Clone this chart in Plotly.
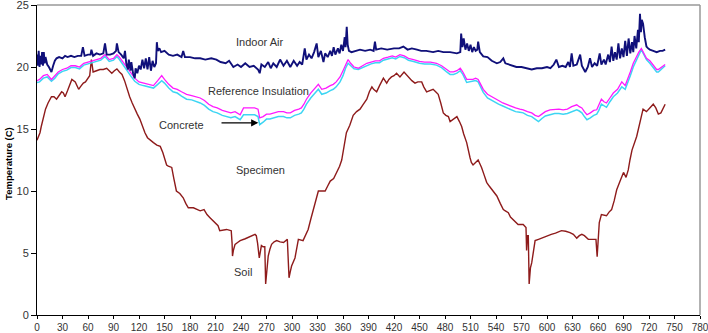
import plotly.graph_objects as go

# ---------------- data ----------------
air_x = [0,1,2,3,4,5,6,7,8,9,10,12,14,16,17,19,21,23,26,30,33,36,40,44,48,52,54,56,60,63,64,66,70,74,78,80,82,86,90,93,94,96,99,102,103.5,105,107,108,110,111,113,115,116,118,120,122,124,126,128,130,132,134,136,138,140,141,142,144,146,150,155,160,165,170,172,174,180,186,192,198,205,211,216,222,226,231,236,240,245,250,255,260,262,264,268,272,275,278,282,286,290,294,298,302,306,309,312,315,317,320,323,326,329,331,334,337,339,342,345,347,349,351,354,356,358,360,362,363,364.4,365.5,367,370,375,380,386,392,396,397.6,399,405,412,420,426,431,436,441,447,452,458,466,472,478,486,494,498,499,500.5,502,504,506,508,510,512,514,516,518,519,521,525,530,535,541,545,548.6,551,556,560,564,570,576,582,588,594,600,604,608,611,614,618,622,625,627,629,631,635,639,641,645,648,650.6,653,656,659,662,664,667,669,672,674,676,678,680,682,684,686,688,690,692,694,696,698,700,701.5,703,705,707,708,709.4,710.5,711.5,713,715,717,719,721,725,729,733,736,739]
air_y = [21.0,20.1,21.3,20.0,20.9,20.2,21.2,20.1,21.2,20.3,20.8,20.2,20.0,19.7,19.6,20.1,20.5,20.7,20.8,20.7,20.9,20.8,20.9,20.8,20.9,20.9,21.6,20.9,21.0,21.0,21.4,20.9,21.1,21.0,21.1,21.9,21.0,21.0,21.1,21.3,21.9,21.2,21.0,20.7,21.3,20.3,19.8,20.6,19.7,20.4,19.5,19.1,19.9,19.5,20.1,19.8,20.6,19.9,20.7,19.8,20.8,19.7,20.5,20.0,20.3,22.0,21.3,21.5,21.2,21.3,21.0,20.9,21.0,20.8,21.3,20.8,20.8,20.7,20.7,20.6,20.7,20.6,20.4,20.3,20.5,20.0,20.2,20.0,20.3,20.0,20.1,19.8,19.5,20.2,20.0,20.4,19.9,20.3,20.0,20.6,20.1,20.5,20.0,20.5,20.1,20.4,20.2,21.5,20.6,21.0,20.7,21.2,21.9,20.8,21.3,20.4,21.1,20.8,21.3,20.9,21.6,21.0,21.5,21.1,21.8,21.3,22.4,21.6,23.25,21.8,21.3,21.2,21.3,21.4,21.3,21.4,21.3,22.05,21.4,21.5,21.4,21.5,21.5,21.65,21.4,21.5,21.4,21.3,21.3,21.2,21.3,21.2,21.2,21.1,21.2,22.7,21.6,22.3,21.4,21.9,21.3,21.8,21.2,21.6,21.3,21.4,22.05,21.2,20.85,20.8,20.5,20.3,20.4,20.7,20.3,20.2,20.1,20.0,20.0,19.9,19.8,19.9,19.9,20.0,19.9,20.2,20.6,20.0,20.1,20.0,20.4,20.0,21.1,20.1,20.2,21.0,20.1,19.6,20.0,20.7,20.0,20.3,20.1,21.1,20.2,20.6,20.2,21.0,20.4,21.65,20.5,21.2,20.6,21.9,20.7,21.5,20.8,22.1,20.9,22.3,21.1,22.0,21.2,22.5,21.5,23.0,22.0,24.3,22.8,23.8,23.5,22.4,21.65,21.5,21.4,21.3,21.2,21.3,21.3,21.4]

ins_x = [0,3,7.5,12,17,21,25,30,35,40,45,50,55,60,65,70,75,80,85,90,94,97,100,105,110,115,120,125,130,137,142,146.7,150,155,160,165,170,176,182,187,192,197,202,207,212,218,223,228,233,239,243,250,256,260,262,266,270,274,278,284,290,294,298,303,308,311,314,317,322,327,331,335,340,345,348.6,352,356.5,360,363,366,369,373,378,383,388,393,398,403,407.5,413,418,422,427,432,437,443,450,456,463,470,476,482,486,490,494,498,501,505.5,509,513,516,519,522,525,530,537,543,548,553,558,563,568,572,577,582,586,590,594,598,603.5,609,614,619,624,629,635,638,641,644,647,651,655,658.5,661,664,667,670,674,678,683,686,688,692,695,698,701.5,705,708,711,714,717,721,725,729,731,735,739]
ref_ins_y = [18.9,19.0,19.3,19.4,19.0,19.3,19.6,19.8,19.9,20.1,20.1,20.0,20.3,20.4,20.5,20.6,20.7,21.0,20.6,20.7,21.0,20.8,20.5,20.0,19.6,19.1,18.8,18.7,18.6,18.5,18.9,19.3,19.0,18.6,18.3,18.2,18.0,17.8,17.7,17.6,17.5,17.3,17.0,16.8,16.7,16.5,16.4,16.3,16.4,16.15,16.7,16.7,16.7,16.6,15.9,16.0,16.2,16.2,16.3,16.4,16.4,16.3,16.3,16.5,16.6,16.7,17.0,17.4,17.9,18.3,18.6,18.2,18.3,18.5,18.6,18.8,19.2,19.7,20.2,20.6,20.3,20.0,19.9,20.1,20.3,20.4,20.5,20.5,20.7,20.8,20.9,20.8,21.0,20.9,20.7,20.6,20.45,20.4,20.4,20.3,20.1,19.8,19.6,19.6,19.7,19.9,19.6,19.0,19.0,19.0,19.1,19.0,18.6,18.2,17.8,17.5,17.3,17.1,16.95,16.8,16.7,16.6,16.55,16.4,16.3,16.1,16.0,16.2,16.4,16.55,16.6,16.6,16.55,16.6,16.8,16.95,16.8,16.7,16.4,16.15,16.3,16.5,16.55,16.9,17.4,17.2,17.1,17.5,17.9,18.2,18.5,18.8,18.5,19.0,19.6,20.3,20.8,21.2,21.5,21.1,20.7,20.5,20.1,19.8,19.8,20.0,20.2]
concrete_y = [18.75,18.8,19.1,19.2,18.85,19.1,19.45,19.65,19.75,19.95,19.95,19.85,20.15,20.25,20.35,20.45,20.55,20.85,20.45,20.55,20.85,20.6,20.3,19.7,19.3,18.85,18.6,18.5,18.4,18.3,18.6,18.9,18.7,18.3,18.0,17.9,17.65,17.4,17.35,17.25,17.1,16.9,16.6,16.4,16.3,16.1,16.0,15.9,16.0,15.75,16.15,16.15,16.15,16.0,15.35,15.55,15.8,15.8,15.9,16.0,16.0,15.9,15.9,16.1,16.2,16.3,16.6,17.0,17.5,17.9,18.2,17.8,17.9,18.1,18.2,18.4,18.8,19.3,19.9,20.3,20.1,19.85,19.8,19.95,20.15,20.25,20.35,20.35,20.55,20.65,20.75,20.65,20.85,20.75,20.55,20.45,20.3,20.25,20.25,20.15,19.95,19.6,19.4,19.4,19.5,19.7,19.4,18.75,18.8,18.8,18.9,18.8,18.35,17.95,17.5,17.2,17.0,16.85,16.7,16.5,16.4,16.35,16.3,16.1,16.0,15.8,15.6,15.85,16.05,16.15,16.25,16.25,16.2,16.25,16.4,16.55,16.45,16.3,16.0,15.75,15.9,16.1,16.2,16.5,17.0,16.85,16.75,17.2,17.6,17.9,18.2,18.4,18.2,18.7,19.3,20.0,20.55,21.0,21.4,21.0,20.6,20.3,19.9,19.6,19.6,19.85,20.1]

soil_x = [0,1.5,3.5,5,7.5,10,13,17,20,23,26,29,31,33,36,39,41,45,47,49,51,54.5,57,60,62,64,65,66,70,74,78,82,85,88,91,94,97,100,103,106,109,112,115,118,121,124,127,130,133,137,141,145,148,150.6,152.5,154.5,158.5,161,164,168,172,175,178,184,188,192,196.5,200,203.5,207,211,213,215,219,223,226,228.5,229.5,230,231,233,236,239,245,250,256.5,258,259.5,261.5,263,264,266,268,269,270.5,272,274,276,279,282,286,290,294.5,296.5,298,299.5,303.5,305.5,307.5,313,316,319,322,325,328,331,335,339,342,345,349,352.5,356,358.5,361,364,368,372,376,380,384,388,391,394,396,399.6,403,407.5,411.4,414,417,420,423,427,431.8,437,441,444.7,448,452.6,455,458.4,462,466,469,472,475,478,481,484,486,490,494,497,499.6,502,505.5,509.4,511,513,516,519,521,523,526,529,532,535,538,541,545,548.6,551,554.5,557,560,563,566,569,572,575.3,576,577,578,579,580.5,582,584,586,590,595.6,600,605,610,617,622,627,631,635,638,641,644,648.6,652,657.6,659,660.5,661.5,664,667,670,673,676,679,682,686,690,693,695.6,697.6,700,705.5,709,713,717,721,725,728,731,734,737,739]
soil_y = [14.1,14.4,14.7,15.2,16.0,16.6,17.1,17.6,17.6,17.4,17.7,18.0,17.9,17.6,18.1,18.6,19.0,18.8,18.5,18.2,18.4,18.7,18.8,19.1,19.3,20.6,20.0,19.6,19.7,19.8,19.8,19.9,19.7,19.5,19.7,19.85,19.6,19.4,18.9,18.2,17.6,17.1,16.6,16.2,15.8,15.2,14.7,14.3,14.1,13.9,13.7,13.6,13.1,12.5,12.1,12.0,11.9,11.0,10.0,9.8,9.45,9.0,8.65,8.65,8.5,8.4,8.5,8.1,7.85,7.6,7.3,7.2,6.8,6.85,6.9,6.85,6.8,5.8,4.75,5.2,5.7,5.85,6.0,6.15,6.3,6.5,6.4,5.8,4.6,5.4,5.6,5.5,5.5,2.5,3.8,4.75,5.3,5.7,5.9,6.0,5.9,5.85,6.1,3.0,3.5,3.95,4.6,5.4,6.1,6.0,6.4,6.9,7.7,8.5,9.3,10.0,10.0,10.0,10.4,10.8,11.0,11.5,12.0,12.5,13.6,14.7,15.3,16.1,16.4,16.6,17.0,17.4,18.0,18.4,18.2,18.0,18.5,19.1,18.7,19.0,19.2,19.3,19.5,19.2,19.6,19.2,18.9,18.7,18.8,18.8,18.4,18.0,18.1,18.2,18.0,17.8,17.1,16.3,16.1,16.0,15.6,15.8,16.0,15.6,15.2,14.6,13.9,12.7,12.3,12.1,12.3,12.5,12.2,11.9,11.3,10.7,10.4,10.1,9.8,9.6,9.0,8.5,8.4,8.25,7.9,7.7,7.5,7.3,7.3,7.3,7.05,5.2,6.4,6.4,2.5,3.8,4.2,5.2,6.0,6.1,6.25,6.4,6.5,6.6,6.8,6.75,6.65,6.5,6.2,6.4,6.5,6.4,6.1,6.1,6.1,4.7,6.0,7.45,8.1,8.05,8.0,8.3,8.5,9.2,10.1,10.8,11.5,11.1,11.7,12.5,13.3,14.4,15.5,16.6,16.4,16.7,17.0,16.7,16.2,16.3,16.7,17.0]

x_ticks = list(range(0, 781, 30))
y_ticks = [0, 5, 10, 15, 20, 25]

labels = {
    "Indoor Air": (261.5, 22.05),
    "Reference Insulation": (260.4, 18.03),
    "Concrete": (170.2, 15.35),
    "Specimen": (262.4, 11.68),
    "Soil": (242.7, 3.5),
}
arrow_tail = (215.3, 15.5)
arrow_tip = (260.4, 15.5)

# ---------------- figure ----------------
FONT = "Liberation Sans, Arial, sans-serif"
fig = go.Figure()
fig.add_trace(go.Scatter(x=soil_x, y=soil_y, mode="lines", name="Soil",
                         line=dict(color="#8E1B1B", width=1.4)))
fig.add_trace(go.Scatter(x=ins_x, y=concrete_y, mode="lines", name="Concrete",
                         line=dict(color="#3DD5F3", width=1.5)))
fig.add_trace(go.Scatter(x=ins_x, y=ref_ins_y, mode="lines", name="Reference Insulation",
                         line=dict(color="#FF1AFF", width=1.3)))
fig.add_trace(go.Scatter(x=air_x, y=air_y, mode="lines", name="Indoor Air",
                         line=dict(color="#10107A", width=1.9)))

for txt, (lx, ly) in labels.items():
    fig.add_annotation(x=lx, y=ly, text=txt, showarrow=False,
                       font=dict(family=FONT, size=11, color="#333333"))

fig.add_annotation(x=arrow_tip[0], y=arrow_tip[1], ax=arrow_tail[0], ay=arrow_tail[1],
                   axref="x", ayref="y", xref="x", yref="y", text="",
                   showarrow=True, arrowhead=2, arrowsize=1.2, arrowwidth=1.2,
                   arrowcolor="black")

fig.add_annotation(xref="paper", yref="paper", x=-0.044, y=0.49,
                   xanchor="center", yanchor="middle",
                   text="<b>Temperature (C)</b>", textangle=-90, showarrow=False,
                   font=dict(family=FONT, size=9.5, color="black"))

# gray top/right frame
fig.add_shape(type="line", xref="paper", yref="paper", x0=0, x1=1, y0=1, y1=1,
              line=dict(color="#999999", width=1.5))
fig.add_shape(type="line", xref="paper", yref="paper", x0=1, x1=1, y0=0, y1=1,
              line=dict(color="#999999", width=1.5))

fig.update_layout(
    width=708, height=333,
    margin=dict(l=37, r=8, t=5, b=18),
    plot_bgcolor="white", paper_bgcolor="white",
    showlegend=False,
    font=dict(family=FONT, size=11, color="#333333"),
    xaxis=dict(range=[0, 780], tickvals=x_ticks, ticktext=[str(v) for v in x_ticks],
               showgrid=False, zeroline=False, showline=True, linecolor="black",
               linewidth=1, ticks="outside", ticklen=3, tickcolor="black",
               automargin=False, ticklabeloverflow="allow",
               tickfont=dict(family=FONT, size=10, color="#333333")),
    yaxis=dict(range=[0, 25], tickvals=y_ticks, ticktext=[str(v) for v in y_ticks],
               showgrid=False, zeroline=False, showline=True, linecolor="black",
               linewidth=1, ticks="outside", ticklen=5, tickcolor="black",
               automargin=False, ticklabeloverflow="allow",
               tickfont=dict(family=FONT, size=11, color="#333333")),
)

fig.write_html("out.html")
